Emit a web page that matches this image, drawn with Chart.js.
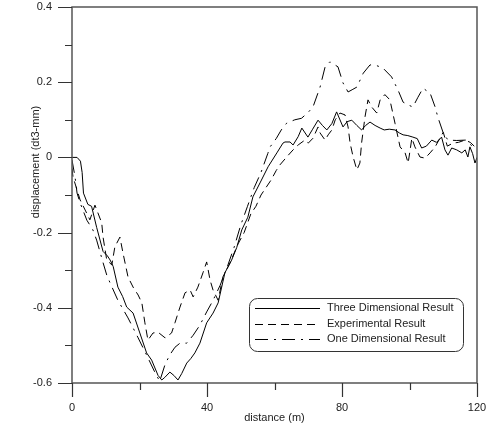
<!DOCTYPE html>
<html>
<head>
<meta charset="utf-8">
<script src="https://cdn.jsdelivr.net/npm/chart.js@4"></script>
<style>
  html, body { margin: 0; padding: 0; background: #fff; }
  #wrap { width: 493px; height: 436px; }
</style>
</head>
<body>
<div id="wrap"><canvas id="chart"></canvas></div>
<script>
// Series data (distance in m, displacement in dt3-mm)
const threeDimX = [0, 1.5, 2.5, 3, 3.4, 4.7, 5.8, 7.3, 9.2, 10.5, 11.3, 12.2, 13.6, 15, 16.2, 18.1, 20.1, 22.1, 23.6, 25.5, 26.6, 27.5, 29, 30.2, 31.4, 32.5, 34, 35.2, 36.4, 37.9, 39.9, 41.8, 43.3, 45.3, 47.3, 48.8, 50.3, 52.1, 53.6, 55.7, 58.1, 60.7, 62.5, 63.1, 64.6, 65.5, 67, 68.1, 69.9, 71.3, 72.9, 74.2, 75.5, 77, 78.4, 80.3, 81.5, 82.9, 84.4, 85.8, 87, 88.3, 89.8, 91.3, 92.5, 94, 95.7, 97, 98.1, 99.5, 101, 102.3, 103.6, 105, 106.6, 108, 109.5, 110.5, 111.4, 112.5, 114, 115.5, 116.5, 117.3, 117.9, 118.7, 119.4, 120];
const threeDimY = [0, 0, -0.01, -0.04, -0.095, -0.125, -0.13, -0.186, -0.25, -0.262, -0.273, -0.29, -0.345, -0.37, -0.398, -0.414, -0.467, -0.52, -0.539, -0.58, -0.592, -0.585, -0.571, -0.58, -0.592, -0.575, -0.547, -0.535, -0.52, -0.494, -0.44, -0.414, -0.387, -0.307, -0.273, -0.24, -0.193, -0.159, -0.105, -0.068, -0.025, 0.012, 0.038, 0.041, 0.041, 0.033, 0.055, 0.078, 0.054, 0.075, 0.099, 0.085, 0.073, 0.09, 0.121, 0.081, 0.095, 0.099, 0.085, 0.073, 0.085, 0.094, 0.085, 0.078, 0.073, 0.075, 0.073, 0.065, 0.06, 0.058, 0.054, 0.05, 0.025, 0.03, 0.046, 0.04, 0.054, 0.02, 0.006, 0.025, 0.02, 0.012, 0.02, 0.001, 0.028, 0.01, -0.015, 0.0];

const experimentalX = [0, 0.3, 2.4, 3.9, 5.3, 6.8, 8.8, 9.2, 10.3, 11.8, 12.7, 14.2, 15.1, 16.6, 18.1, 19.6, 20.7, 21.6, 22.5, 24, 25.5, 27.6, 29.5, 30.5, 32, 33.5, 35, 35.9, 37.3, 38.8, 39.9, 40.9, 41.8, 43.3, 44.7, 46.8, 49.2, 51, 53, 54.5, 56, 57.5, 59, 60.5, 61.6, 63.6, 65.5, 67, 69, 70, 71.4, 72.9, 73.5, 75, 75.9, 77, 78, 79.4, 80.9, 81.8, 82.4, 83.3, 84.4, 85.3, 85.8, 86.8, 87.7, 88.8, 90.3, 91.3, 92.7, 94.2, 95.7, 97.2, 98.7, 99.6, 100.7, 101.6, 103.1, 104.6, 106.1, 107.6, 110, 111.2, 112.9, 114.5, 116.4, 118, 119.4, 120];
const experimentalY = [-0.03, -0.052, -0.113, -0.14, -0.166, -0.127, -0.174, -0.212, -0.273, -0.286, -0.238, -0.212, -0.254, -0.318, -0.345, -0.366, -0.387, -0.44, -0.486, -0.467, -0.465, -0.48, -0.467, -0.44, -0.398, -0.36, -0.353, -0.371, -0.345, -0.307, -0.278, -0.326, -0.353, -0.38, -0.318, -0.281, -0.23, -0.2, -0.15, -0.13, -0.1, -0.08, -0.06, -0.035, -0.02, 0.001, 0.02, 0.033, 0.046, 0.038, 0.051, 0.081, 0.065, 0.046, 0.06, 0.073, 0.1, 0.118, 0.113, 0.081, 0.038, 0.001, -0.033, -0.015, 0.038, 0.107, 0.153, 0.134, 0.118, 0.153, 0.167, 0.153, 0.091, 0.028, 0.012, -0.015, 0.051, 0.028, 0.001, -0.002, 0.012, 0.028, 0.067, 0.03, 0.038, 0.04, 0.046, 0.04, 0.028, 0.03];

const oneDimX = [0, 0.9, 1.5, 2.4, 4.4, 6.2, 7.3, 9.2, 10.3, 11.3, 13.6, 16.6, 19.6, 22.5, 24.9, 26, 27.6, 29, 30.5, 32, 34, 35.9, 37.9, 39.9, 41.8, 43.9, 46.2, 48, 50, 52, 54, 56, 58, 58.7, 60.5, 62, 63.6, 66, 68, 70, 71.4, 73.5, 75, 76.4, 78.8, 80.3, 81.8, 83, 84.4, 86.3, 88.3, 90, 92.1, 94.7, 96.6, 98.1, 99.5, 101, 102.5, 104, 106.1, 107.6, 108.4, 110, 111.4, 114, 116.6, 118.8, 120];
const oneDimY = [-0.007, -0.052, -0.095, -0.121, -0.167, -0.193, -0.22, -0.28, -0.313, -0.334, -0.38, -0.427, -0.48, -0.533, -0.578, -0.595, -0.55, -0.525, -0.505, -0.494, -0.494, -0.473, -0.446, -0.411, -0.38, -0.34, -0.286, -0.24, -0.18, -0.13, -0.08, -0.04, 0.01, 0.028, 0.05, 0.073, 0.091, 0.1, 0.104, 0.12, 0.134, 0.187, 0.241, 0.254, 0.241, 0.198, 0.174, 0.18, 0.187, 0.224, 0.246, 0.245, 0.238, 0.214, 0.179, 0.147, 0.14, 0.134, 0.16, 0.184, 0.171, 0.134, 0.107, 0.065, 0.046, 0.045, 0.046, 0.028, 0.028];

const seriesLabels = ['Three Dimensional Result', 'Experimental Result', 'One Dimensional Result'];
const xTicks = [0, 40, 80, 120];
const yTicks = [-0.6, -0.4, -0.2, 0, 0.2, 0.4];

const FONT = '11px "Liberation Sans", Arial, sans-serif';
const TEXT = '#222';

function toPoints(xs, ys) {
  return xs.map((x, i) => ({ x, y: ys[i] }));
}

// keep the plot box fixed: drop the padding Chart.js adds for edge labels
function fixBox(scale, size) {
  if (scale.isHorizontal()) scale.height = size; else scale.width = size;
  scale.paddingTop = 0;
  scale.paddingBottom = 0;
  scale.paddingLeft = 0;
  scale.paddingRight = 0;
}

// Ticks outside the axes, box frame, titles and the boxed legend
const framePlugin = {
  id: 'frame',
  afterDraw(chart) {
    const { ctx, chartArea: a, scales } = chart;
    const xs = scales.x, ys = scales.y;
    ctx.save();
    ctx.strokeStyle = '#555';
    ctx.lineWidth = 1.5;
    ctx.strokeRect(a.left, a.top, a.right - a.left, a.bottom - a.top);

    ctx.lineWidth = 1.2;
    ctx.strokeStyle = '#333';
    ctx.beginPath();
    for (let v = 0; v <= 120; v += 20) {
      const px = Math.round(xs.getPixelForValue(v)) + 0.5;
      const len = v % 40 === 0 ? 14 : 7;
      ctx.moveTo(px, a.bottom);
      ctx.lineTo(px, a.bottom + len);
    }
    for (let i = -6; i <= 4; i++) {
      const py = Math.round(ys.getPixelForValue(i / 10)) + 0.5;
      const len = i % 2 === 0 ? 14 : 7;
      ctx.moveTo(a.left, py);
      ctx.lineTo(a.left - len, py);
    }
    ctx.stroke();

    // axis titles
    ctx.fillStyle = TEXT;
    ctx.font = FONT;
    ctx.textAlign = 'center';
    ctx.textBaseline = 'middle';
    ctx.fillText('distance (m)', (a.left + a.right) / 2, 418);
    ctx.save();
    ctx.translate(36, 162);
    ctx.rotate(-Math.PI / 2);
    ctx.fillText('displacement (dt3-mm)', 0, 0);
    ctx.restore();

    // legend box
    const bx = 249, by = 298, bw = 214, bh = 53, r = 8;
    ctx.fillStyle = '#fff';
    ctx.strokeStyle = '#333';
    ctx.lineWidth = 1;
    ctx.beginPath();
    ctx.roundRect(bx + 0.5, by + 0.5, bw, bh, r);
    ctx.fill();
    ctx.stroke();

    const rows = [308, 324, 339];
    chart.data.datasets.forEach((ds, i) => {
      const y = rows[i] + 0.5;
      ctx.strokeStyle = '#000';
      ctx.lineWidth = 1;
      ctx.setLineDash(ds.borderDash || []);
      ctx.beginPath();
      ctx.moveTo(255, y);
      ctx.lineTo(320, y);
      ctx.stroke();
      ctx.setLineDash([]);
      ctx.fillStyle = TEXT;
      ctx.textAlign = 'left';
      ctx.fillText(ds.label, 327, rows[i]);
    });
    ctx.restore();
  }
};

new Chart(document.getElementById('chart'), {
  type: 'line',
  data: {
    datasets: [
      {
        label: seriesLabels[0],
        data: toPoints(threeDimX, threeDimY),
        borderColor: '#000',
        borderWidth: 1,
        borderDash: []
      },
      {
        label: seriesLabels[1],
        data: toPoints(experimentalX, experimentalY),
        borderColor: '#000',
        borderWidth: 1,
        borderDash: [8, 5]
      },
      {
        label: seriesLabels[2],
        data: toPoints(oneDimX, oneDimY),
        borderColor: '#000',
        borderWidth: 1,
        borderDash: [13, 6, 2, 6]
      }
    ]
  },
  options: {
    responsive: true,
    maintainAspectRatio: false,
    animation: false,
    layout: { padding: { left: 0, right: 16, top: 7, bottom: 0 } },
    elements: {
      point: { radius: 0 },
      line: { tension: 0, fill: false }
    },
    plugins: {
      legend: { display: false },
      tooltip: { enabled: false }
    },
    scales: {
      x: {
        type: 'linear',
        min: 0,
        max: 120,
        afterBuildTicks: (scale) => { scale.ticks = xTicks.map(v => ({ value: v })); },
        afterFit: (scale) => fixBox(scale, 53),
        grid: { display: false, drawTicks: false },
        border: { display: false },
        ticks: {
          padding: 18,
          color: TEXT,
          font: { family: '"Liberation Sans", Arial, sans-serif', size: 11 },
          maxRotation: 0,
          callback: (v) => String(v)
        }
      },
      y: {
        type: 'linear',
        min: -0.6,
        max: 0.4,
        afterBuildTicks: (scale) => { scale.ticks = yTicks.map(v => ({ value: v })); },
        afterFit: (scale) => fixBox(scale, 72),
        grid: { display: false, drawTicks: false },
        border: { display: false },
        ticks: {
          padding: 20,
          color: TEXT,
          font: { family: '"Liberation Sans", Arial, sans-serif', size: 11 },
          callback: (v) => String(+Number(v).toFixed(1))
        }
      }
    }
  },
  plugins: [framePlugin]
});
</script>
</body>
</html>
